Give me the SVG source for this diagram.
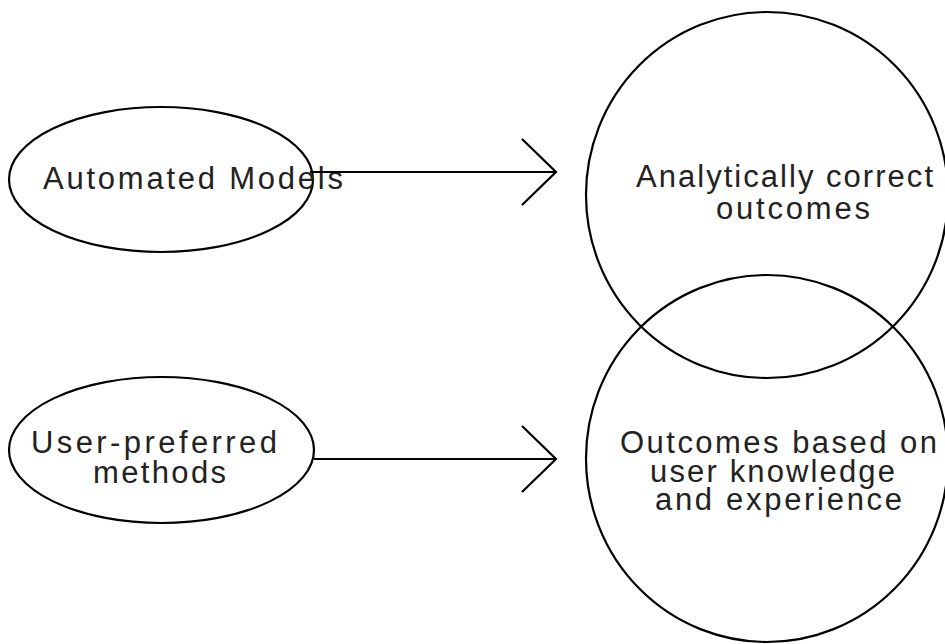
<svg xmlns="http://www.w3.org/2000/svg" width="945" height="644" viewBox="0 0 945 644">
<style>
.shape{fill:none;stroke:#000;stroke-width:2.2}
.lbl{font-family:"Liberation Sans",Arial,sans-serif;font-size:31px;fill:#222;text-anchor:middle}
.conn{fill:none;stroke:#000;stroke-width:2.2}
</style>
<rect width="945" height="644" fill="#fff"/>
<g id="node-automated">
<ellipse class="shape" cx="161" cy="179.5" rx="152" ry="72.5"/>
<text class="lbl" x="193" y="189" textLength="300" lengthAdjust="spacing">Automated Models</text>
</g>
<g id="node-user-preferred">
<ellipse class="shape" cx="161.5" cy="450" rx="152.5" ry="73"/>
<text class="lbl" x="154" y="453" textLength="246" lengthAdjust="spacing">User-preferred</text>
<text class="lbl" x="159.5" y="483" textLength="133" lengthAdjust="spacing">methods</text>
</g>
<g id="node-analytically">
<ellipse class="shape" cx="767" cy="195" rx="181" ry="183"/>
<text class="lbl" x="784.5" y="187" textLength="297" lengthAdjust="spacing">Analytically correct</text>
<text class="lbl" x="793" y="219" textLength="154" lengthAdjust="spacing">outcomes</text>
</g>
<g id="node-outcomes-user">
<ellipse class="shape" cx="767" cy="458.5" rx="181" ry="183.5"/>
<text class="lbl" x="778.5" y="453" textLength="317" lengthAdjust="spacing">Outcomes based on</text>
<text class="lbl" x="772.5" y="482" textLength="245" lengthAdjust="spacing">user knowledge</text>
<text class="lbl" x="778.5" y="510" textLength="247" lengthAdjust="spacing">and experience</text>
</g>
<g id="connectors">
<path class="conn" d="M310 172 H556 M522 139 L556 172 L522 205"/>
<path class="conn" d="M314 459 H556 M522 426 L556 459 L522 492"/>
</g>
</svg>
